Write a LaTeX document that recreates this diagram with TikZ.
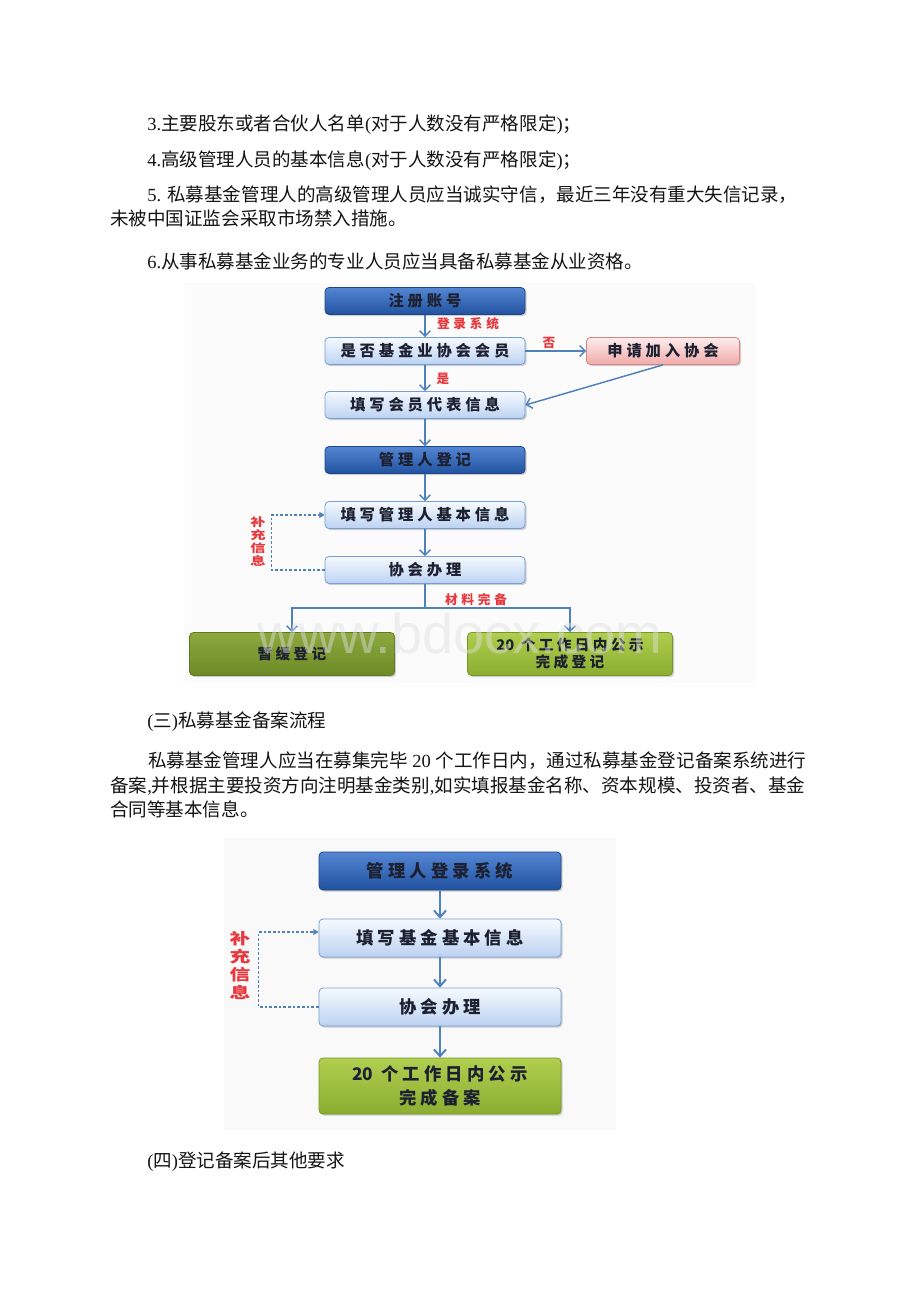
\documentclass[tikz,border=0pt]{standalone}
\usepackage{fontspec}
\usepackage{graphicx}
\setmainfont{Noto Sans CJK SC}
\newfontfamily\lat{Liberation Serif}
\newfontfamily\wmfont{Liberation Sans}
\usetikzlibrary{arrows.meta,shadows}
\newdimen\cjkgap
\cjkgap=0pt
\makeatletter
\newcommand\spread[1]{\spread@#1\@nil}
\def\spread@#1#2\@nil{#1\ifx\relax#2\relax\else\hskip\cjkgap\spread@#2\@nil\fi}
\makeatother

\definecolor{arrowblue}{RGB}{79,129,189}
\definecolor{labelred}{RGB}{232,56,61}
\definecolor{navytop}{RGB}{84,134,212}
\definecolor{navybot}{RGB}{33,82,160}
\definecolor{navyedge}{RGB}{30,70,135}
\definecolor{icetop}{RGB}{246,250,255}
\definecolor{icebot}{RGB}{188,210,242}
\definecolor{iceedge}{RGB}{118,158,214}
\definecolor{rosetop}{RGB}{253,236,236}
\definecolor{rosebot}{RGB}{242,170,170}
\definecolor{roseedge}{RGB}{214,132,132}
\definecolor{olivetop}{RGB}{140,168,62}
\definecolor{olivebot}{RGB}{108,138,38}
\definecolor{oliveedge}{RGB}{95,122,35}
\definecolor{limetop}{RGB}{176,206,80}
\definecolor{limebot}{RGB}{138,174,48}
\definecolor{limeedge}{RGB}{118,152,40}
\definecolor{bodytext}{RGB}{20,20,20}
\definecolor{boxtext}{RGB}{28,32,48}

\newcommand\bodyfont{\fontsize{13.9pt}{16pt}\selectfont}
\newcommand\boxfont{\bfseries\fontsize{11.5pt}{13pt}\selectfont\cjkgap=2.9pt\relax}
\newcommand\greenfont{\bfseries\fontsize{11pt}{12.75pt}\selectfont\cjkgap=2.5pt\relax}
\newcommand\bigboxfont{\bfseries\fontsize{13pt}{17.5pt}\selectfont\cjkgap=3.1pt\relax}
\newcommand\tagfont{\bfseries\fontsize{9.5pt}{11pt}\selectfont\cjkgap=2.8pt\relax}
\newcommand\sidefont{\bfseries\fontsize{8.5pt}{8.6pt}\selectfont}
\newcommand\bigsidefont{\bfseries\fontsize{11.5pt}{11.6pt}\selectfont}
\newcommand\stackchars[1]{\scalebox{1.35}[1]{\begin{tabular}{@{}c@{}}#1\end{tabular}}}

\begin{document}
\begin{tikzpicture}[x=0.75pt,y=-0.75pt,
  every node/.style={inner sep=0pt},
  para/.style={anchor=west,text=bodytext,font=\bodyfont,text height=0.88em,text depth=0.12em},
  stepbase/.style={rectangle,rounded corners=3pt,line width=0.6pt,align=center,text=boxtext,
    drop shadow={shadow xshift=1.2pt,shadow yshift=-1.2pt,opacity=0.3,fill=black!60}},
  darkbox/.style={stepbase,draw=navyedge,top color=navytop,bottom color=navybot},
  lightbox/.style={stepbase,draw=iceedge,top color=icetop,bottom color=icebot},
  rosebox/.style={stepbase,draw=roseedge,top color=rosetop,bottom color=rosebot},
  olivebox/.style={stepbase,draw=oliveedge,top color=olivetop,bottom color=olivebot},
  limebox/.style={stepbase,draw=limeedge,top color=limetop,bottom color=limebot},
  onesize/.style={minimum width=150pt,minimum height=20.25pt,font=\boxfont},
  greensize/.style={minimum width=153.75pt,minimum height=32.25pt,font=\greenfont},
  twosize/.style={minimum width=181.5pt,minimum height=28.5pt,font=\bigboxfont},
  tag/.style={text=labelred,font=\tagfont},
  flow/.style={draw=arrowblue,line width=1.1pt,-{Straight Barb[length=4pt,width=8pt]}},
  flowtwo/.style={draw=arrowblue,line width=1.5pt,-{Straight Barb[length=5pt,width=9pt]}},
  back/.style={draw=arrowblue,line width=0.8pt,dash pattern=on 2pt off 1.5pt,-{Triangle[length=4pt,width=4.5pt]}}
]
\fill[white] (0,0) rectangle (920,1302);
\useasboundingbox (0,0) rectangle (920,1302);
\fill[black!1.5] (185,283) rectangle (755,683);
\fill[black!2.5] (224,838) rectangle (616,1130);

\node[para] (l3) at (147,125) {{\lat 3.}主要股东或者合伙人名单{\lat (}对于人数没有严格限定{\lat )}；};
\node[para] (l4) at (147,161) {{\lat 4.}高级管理人员的基本信息{\lat (}对于人数没有严格限定{\lat )}；};
\node[para] (l5) at (147,196) {{\lat 5. }私募基金管理人的高级管理人员应当诚实守信，最近三年没有重大失信记录，};
\node[para] (l5b) at (110,220) {未被中国证监会采取市场禁入措施。};
\node[para] (l6) at (147,263) {{\lat 6.}从事私募基金业务的专业人员应当具备私募基金从业资格。};

% first flow
\node[darkbox,onesize] (reg) at (425,301) {\spread{注册账号}};
\node[lightbox,onesize] (member) at (425,351) {\spread{是否基金业协会会员}};
\node[rosebox,onesize,minimum width=114.75pt] (apply) at (663,351) {\spread{申请加入协会}};
\node[lightbox,onesize] (rep) at (425,405) {\spread{填写会员代表信息}};
\node[darkbox,onesize] (mgr) at (425,460) {\spread{管理人登记}};
\node[lightbox,onesize] (info) at (425,515) {\spread{填写管理人基本信息}};
\node[lightbox,onesize] (handle) at (425,570) {\spread{协会办理}};
\node[olivebox,greensize] (defer) at (292,654) {\spread{暂缓登记}};
\node[limebox,greensize] (done) at (570,654) {20\hskip5pt\spread{个工作日内公示}\\\spread{完成登记}};

\draw[flow] (reg) -- (member);
\node[tag] (login) at (468,324) {\spread{登录系统}};
\draw[flow] (member) -- (apply);
\node[tag] (no) at (549,343) {否};
\draw[flow] (member) -- (rep);
\node[tag] (yes) at (443,379) {是};
\draw[flow] (apply.south) -- (rep.east);
\draw[flow] (rep) -- (mgr);
\draw[flow] (mgr) -- (info);
\draw[flow] (info) -- (handle);
\draw[back] (handle.west) -- ++(-53,0) |- (info.west);
\node[text=labelred,font=\sidefont] (more) at (258,543) {\stackchars{补\\充\\信\\息}};
\coordinate (split) at (425,608);
\draw[draw=arrowblue,line width=1.1pt] (handle.south) -- (split);
\draw[flow] (split) -| (defer.north);
\draw[flow] (split) -| (done.north);
\node[tag] (ready) at (476,600) {\spread{材料完备}};

\node[para] (h3) at (147,722) {{\lat (}三{\lat )}私募基金备案流程};
\node[para] (p1) at (148,762) {私募基金管理人应当在募集完毕{\lat\ 20\ }个工作日内，通过私募基金登记备案系统进行};
\node[para] (p2) at (110,787) {备案{\lat ,}并根据主要投资方向注明基金类别{\lat ,}如实填报基金名称、资本规模、投资者、基金};
\node[para] (p3) at (110,811) {合同等基本信息。};

% second flow
\node[darkbox,twosize] (flogin) at (440,871) {\spread{管理人登录系统}};
\node[lightbox,twosize] (finfo) at (440,938) {\spread{填写基金基本信息}};
\node[lightbox,twosize] (fhandle) at (440,1007) {\spread{协会办理}};
\node[limebox,twosize,minimum height=42pt] (filed) at (440,1086) {20\hskip6pt\spread{个工作日内公示}\\\spread{完成备案}};

\draw[flowtwo] (flogin) -- (finfo);
\draw[flowtwo] (finfo) -- (fhandle);
\draw[flowtwo] (fhandle) -- (filed);
\draw[back] (fhandle.west) -- ++(-60,0) |- ([yshift=4.5pt]finfo.west);
\node[text=labelred,font=\bigsidefont] (fmore) at (240,967) {\stackchars{补\\充\\信\\息}};

\node[para] (h4) at (147,1162) {{\lat (}四{\lat )}登记备案后其他要求};

\node[font=\wmfont\fontsize{42pt}{42pt}\selectfont,text=black!12,text opacity=0.45,anchor=base] (mark) at (460,653) {www.bdocx.com};
\end{tikzpicture}
\end{document}
